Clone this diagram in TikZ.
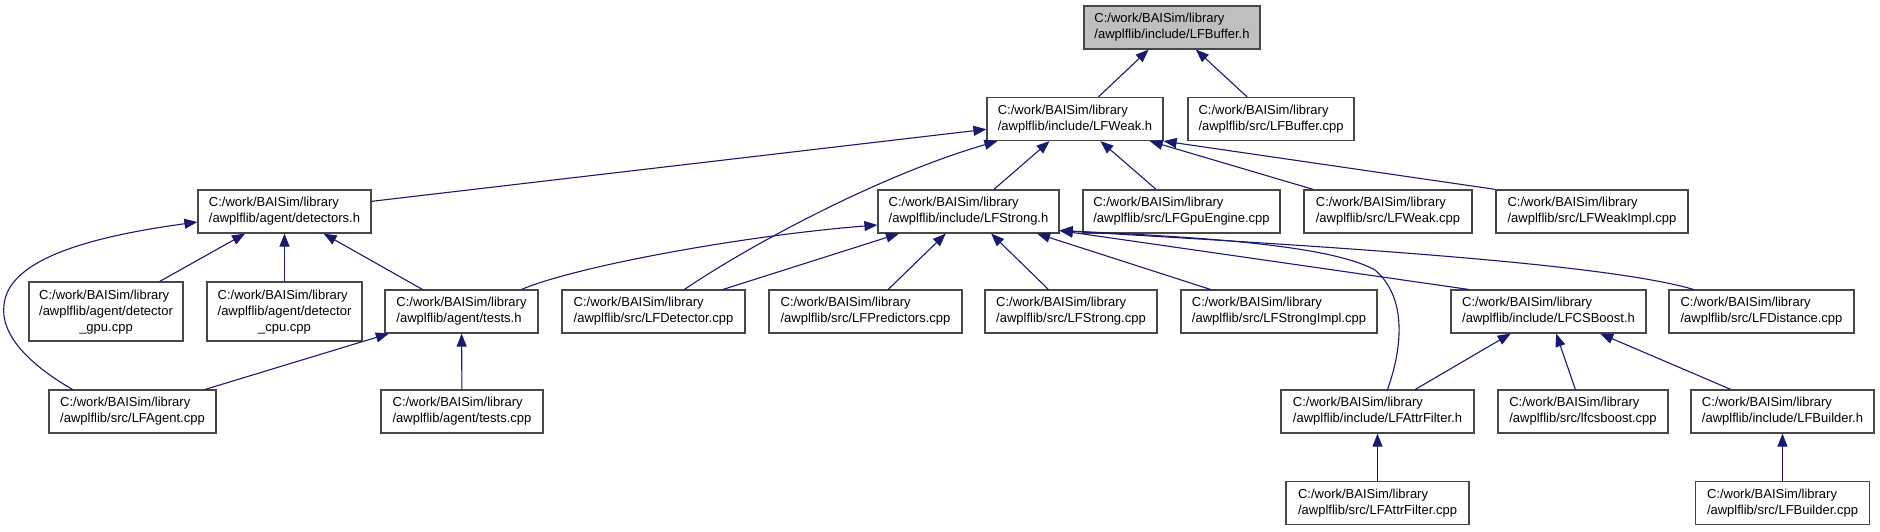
\documentclass[tikz,border=0pt]{standalone}
\usepackage{fontspec}
\setmainfont{Liberation Sans}
\usepackage{tikz}
\usetikzlibrary{calc,arrows.meta}
\definecolor{edgeblue}{HTML}{191970}
\newcommand{\awpl}[1]{C:/work/BAISim/library\\/awplflib/#1}
\newcommand{\awplsplit}[2]{\begin{tabular}[b]{@{}l@{}}C:/work/BAISim/library\\/awplflib/#1\end{tabular}\\#2}

\begin{document}
\begin{tikzpicture}[x=1pt,y=-1pt,>={Triangle[length=13pt,width=10pt]},
  font=\fontsize{13}{16}\selectfont,
  box/.style={draw=black!72,line width=1.2pt,fill=white,align=left,inner sep=2pt,minimum height=43pt},
  tallbox/.style={box,align=center,minimum height=59pt},
  edge/.style={->,edgeblue,line width=1.1pt}]
\useasboundingbox (0,0) rectangle (1880,531);
% row 0 and 1
\node[box,fill=black!25,minimum width=176pt] (buf) at (1172,27.5) {\awpl{include/LFBuffer.h}};
\node[box,minimum width=176pt] (weak) at (1075,119) {\awpl{include/LFWeak.h}};
\node[box,minimum width=166pt] (bufcpp) at (1271,119) {\awpl{src/LFBuffer.cpp}};
% row 2
\node[box,minimum width=173pt] (det) at (284.5,211.5) {\awpl{agent/detectors.h}};
\node[box,minimum width=181pt] (strong) at (968.5,211.5) {\awpl{include/LFStrong.h}};
\node[box,minimum width=197pt] (gpueng) at (1181.5,211.5) {\awpl{src/LFGpuEngine.cpp}};
\node[box,minimum width=168pt] (weakcpp) at (1388,211.5) {\awpl{src/LFWeak.cpp}};
\node[box,minimum width=192pt] (weakimpl) at (1592,211.5) {\awpl{src/LFWeakImpl.cpp}};
% row 3
\node[tallbox,minimum width=154pt] (dgpu) at (106,311.5) {\awplsplit{agent/detector}{\_gpu.cpp}};
\node[tallbox,minimum width=155pt] (dcpu) at (284.5,311.5) {\awplsplit{agent/detector}{\_cpu.cpp}};
\node[box,minimum width=153pt] (testsh) at (461.5,311.5) {\awpl{agent/tests.h}};
\node[box,minimum width=183pt] (detcpp) at (653.5,311.5) {\awpl{src/LFDetector.cpp}};
\node[box,minimum width=193pt] (pred) at (865.5,311.5) {\awpl{src/LFPredictors.cpp}};
\node[box,minimum width=172pt] (strongcpp) at (1071,311.5) {\awpl{src/LFStrong.cpp}};
\node[box,minimum width=196pt] (strongimpl) at (1279,311.5) {\awpl{src/LFStrongImpl.cpp}};
\node[box,minimum width=195pt] (csboost) at (1548.5,311.5) {\awpl{include/LFCSBoost.h}};
\node[box,minimum width=185pt] (dist) at (1761.5,311.5) {\awpl{src/LFDistance.cpp}};
% row 4 and 5
\node[box,minimum width=167pt] (agent) at (132.5,411.5) {\awpl{src/LFAgent.cpp}};
\node[box,minimum width=162pt] (testscpp) at (462,411.5) {\awpl{agent/tests.cpp}};
\node[box,minimum width=193pt] (attrh) at (1377.5,411.5) {\awpl{include/LFAttrFilter.h}};
\node[box,minimum width=170pt] (lfcs) at (1583,411.5) {\awpl{src/lfcsboost.cpp}};
\node[box,minimum width=183pt] (buildh) at (1782.5,411.5) {\awpl{include/LFBuilder.h}};
\node[box,minimum width=183pt] (attrcpp) at (1377.5,503) {\awpl{src/LFAttrFilter.cpp}};
\node[box,minimum width=174pt] (buildcpp) at (1782.5,503) {\awpl{src/LFBuilder.cpp}};
% straight includes
\foreach \a/\b in {weak/buf,bufcpp/buf,det/weak,strong/weak,gpueng/weak,weakcpp/weak,
  dgpu/det,dcpu/det,testsh/det,agent/testsh,testscpp/testsh,
  detcpp/strong,pred/strong,strongcpp/strong,strongimpl/strong,
  attrh/csboost,lfcs/csboost,buildh/csboost,attrcpp/attrh,buildcpp/buildh}
  \draw[edge] (\a) -- (\b);
\draw[edge] (weakimpl.north west) -- (weak.south east);
\draw[edge] ($(csboost.north)+(-80,0)$) -- ($(strong.south east)+(0,-3)$);
% curved includes
\draw[edge] ($(detcpp.north)+(31,0)$) .. controls (750,245) and (880,175) .. ($(weak.south west)+(11,0)$);
\draw[edge] ($(agent.north)+(-60,0)$) .. controls (30,365) and (0,335) .. (4,305)
  .. controls (8,262) and (80,238) .. ($(det.west)+(0,10.5)$);
\draw[edge] ($(testsh.north)+(60,0)$) .. controls (580,265) and (750,235) .. ($(strong.west)+(0,13.5)$);
\draw[edge] ($(dist.north)+(-68,0)$) .. controls (1600,262) and (1300,245) .. ($(strong.south east)+(0,-3)$);
\draw[edge] ($(attrh.north)+(10,0)$) .. controls (1400,355) and (1410,300) .. (1375,270)
  .. controls (1330,245) and (1200,237) .. ($(strong.south east)+(0,-3)$);
\end{tikzpicture}
\end{document}
